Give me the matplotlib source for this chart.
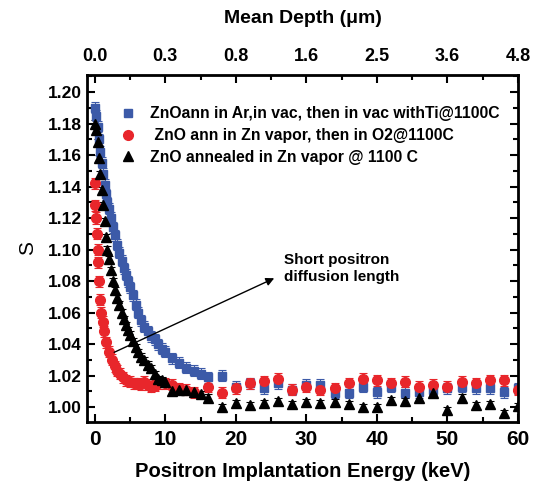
import matplotlib
matplotlib.use("Agg")
import matplotlib.pyplot as plt
from matplotlib.lines import Line2D
from matplotlib.ticker import MultipleLocator, FixedLocator

plt.rcParams['font.family'] = ['Liberation Sans', 'DejaVu Sans']
plt.rcParams['font.weight'] = 'bold'

# ZnO ann in Ar, in vac, then in vac with Ti @1100C
e_blue = [0.0, 0.2, 0.4, 0.6, 0.8, 1.0, 1.2, 1.4, 1.6, 1.8, 2.0, 2.3, 2.6, 2.9, 3.2, 3.5,
          3.8, 4.1, 4.4, 4.7, 5.0, 5.4, 5.8, 6.2, 6.6, 7.0, 7.5, 8.0, 8.5, 9.0, 9.5, 10,
          11, 12, 13, 14, 15, 16, 18, 20, 22, 24, 26, 28, 30, 32, 34, 36, 38, 40, 42,
          44, 46, 48, 50, 52, 54, 56, 58, 60]
s_blue = [1.190, 1.185, 1.178, 1.170, 1.162, 1.155, 1.148, 1.141, 1.135, 1.130, 1.126,
          1.120, 1.114, 1.109, 1.103, 1.098, 1.093, 1.088, 1.084, 1.080, 1.076, 1.071,
          1.065, 1.060, 1.055, 1.051, 1.048, 1.045, 1.043, 1.040, 1.037, 1.035, 1.031,
          1.028, 1.025, 1.023, 1.021, 1.019, 1.020, 1.013, 1.015, 1.012, 1.015, 1.011,
          1.014, 1.014, 1.009, 1.009, 1.013, 1.0095, 1.013, 1.009, 1.0095, 1.011, 1.012,
          1.013, 1.012, 1.012, 1.0095, 1.012]

# ZnO ann in Zn vapor, then in O2 @1100C
e_red = [0.0, 0.1, 0.2, 0.3, 0.4, 0.5, 0.6, 0.7, 0.9, 1.1, 1.3, 1.6, 2.0, 2.4, 2.8, 3.2,
         3.6, 4.0, 4.5, 5.0, 5.5, 6.0, 6.5, 7.0, 7.5, 8.0, 8.5, 9.0, 10, 11, 12, 13, 14,
         16, 18, 20, 22, 24, 26, 28, 30, 32, 34, 36, 38, 40, 42, 44, 46, 48, 50, 52, 54,
         56, 58, 60]
s_red = [1.142, 1.128, 1.120, 1.110, 1.100, 1.092, 1.080, 1.068, 1.060, 1.054, 1.048,
         1.041, 1.035, 1.030, 1.026, 1.023, 1.021, 1.019, 1.017, 1.016, 1.015, 1.015,
         1.0145, 1.016, 1.014, 1.013, 1.0135, 1.015, 1.015, 1.014, 1.012, 1.011, 1.0095,
         1.013, 1.009, 1.012, 1.015, 1.0165, 1.018, 1.011, 1.013, 1.011, 1.012, 1.015,
         1.018, 1.017, 1.015, 1.016, 1.013, 1.014, 1.013, 1.016, 1.015, 1.017, 1.017,
         1.011]

# ZnO annealed in Zn vapor @ 1100 C
e_black = e_blue
s_black = [1.180, 1.176, 1.168, 1.158, 1.148, 1.138, 1.128, 1.118, 1.108, 1.100, 1.094,
           1.087, 1.080, 1.074, 1.069, 1.065, 1.060, 1.056, 1.052, 1.049, 1.046, 1.042,
           1.038, 1.035, 1.032, 1.030, 1.027, 1.025, 1.021, 1.018, 1.017, 1.016, 1.010,
           1.011, 1.011, 1.0095, 1.008, 1.006, 1.000, 1.0025, 1.001, 1.0025, 1.004,
           1.002, 1.003, 1.0025, 1.003, 1.002, 1.000, 1.000, 1.0045, 1.004, 1.006, 1.009,
           0.998, 1.006, 1.001, 1.002, 0.996, 1.0005]

err = 0.0035
depth_ticks = [0, 10, 20, 30, 40, 50, 60]
depth_labels = ["0.0", "0.3", "0.8", "1.6", "2.5", "3.6", "4.8"]

labels = ['ZnOann in Ar,in vac, then in vac withTi@1100C',
          ' ZnO ann in Zn vapor, then in O2@1100C',
          'ZnO annealed in Zn vapor @ 1100 C']
blue, red = '#3c5aa8', '#e8262b'

fig = plt.figure(figsize=(5.39, 4.86), dpi=100)
ax = fig.add_axes([0.1614, 0.1317, 0.7996, 0.714])

ax.errorbar(e_blue, s_blue, yerr=err, fmt='s', color=blue, ms=6, capsize=3,
            elinewidth=0.8, capthick=0.8)
ax.errorbar(e_red, s_red, yerr=err, fmt='o', color=red, ms=7, capsize=3,
            elinewidth=0.8, capthick=0.8)
ax.errorbar(e_black, s_black, yerr=0.002, fmt='^', color='black', ms=7, capsize=3,
            elinewidth=0.8, capthick=0.8)

ax.set_xlim(-1.1, 60)
ax.set_ylim(0.9905, 1.2108)
ax.xaxis.set_major_locator(MultipleLocator(10))
ax.xaxis.set_minor_locator(MultipleLocator(5))
ax.yaxis.set_major_locator(MultipleLocator(0.02))
ax.yaxis.set_minor_locator(MultipleLocator(0.01))
ax.tick_params(which='both', direction='in', width=1.5, labelsize=12.5, right=True)
ax.tick_params(which='major', length=6)
ax.tick_params(which='minor', length=3.5)
ax.tick_params(axis='x', labelsize=15, pad=6)
for sp in ax.spines.values():
    sp.set_linewidth(2)

ax.set_xlabel('Positron Implantation Energy (keV)', fontsize=14.5, fontweight='bold', labelpad=9)
ax.set_ylabel('S', fontsize=15, fontweight='normal', labelpad=8)

top = ax.twiny()
top.set_xlim(ax.get_xlim())
top.xaxis.set_major_locator(FixedLocator(depth_ticks))
top.xaxis.set_minor_locator(MultipleLocator(5))
top.set_xticklabels(depth_labels)
top.tick_params(which='both', direction='in', width=1.5, labelsize=13, pad=7)
top.tick_params(which='major', length=6)
top.tick_params(which='minor', length=3.5)
top.set_xlabel('Mean Depth (\u03bcm)', fontsize=14, fontweight='bold', labelpad=18)

handles = [Line2D([], [], ls='none', marker='s', color=blue, ms=6),
           Line2D([], [], ls='none', marker='o', color=red, ms=7),
           Line2D([], [], ls='none', marker='^', color='black', ms=7)]
ax.legend(handles, labels, loc='upper left', bbox_to_anchor=(0.045, 0.95), frameon=False,
          fontsize=11.3, handletextpad=0.9, labelspacing=0.42, handlelength=1.0)

ax.annotate('', xy=(25.8, 1.0825), xytext=(2.4, 1.034),
            arrowprops=dict(arrowstyle='-|>', color='black', lw=1, mutation_scale=12))
ax.text(26.8, 1.088, 'Short positron\ndiffusion length', fontsize=11, fontweight='bold',
        va='center', ha='left', linespacing=1.3)

fig.savefig('out.png', dpi=100)
